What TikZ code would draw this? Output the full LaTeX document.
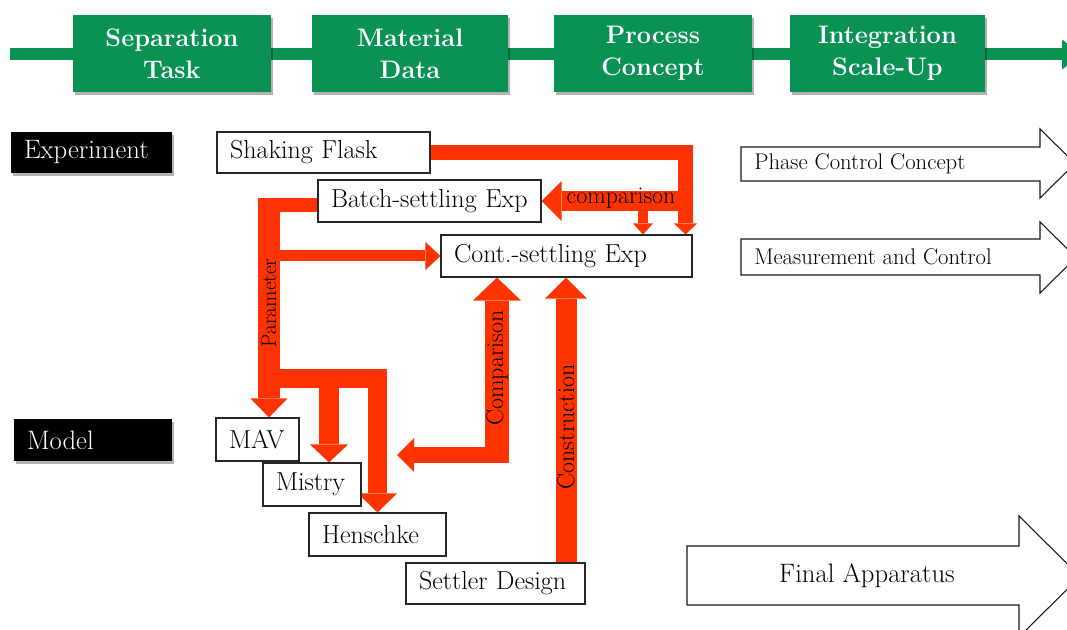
\documentclass[tikz,border=0pt]{standalone}
\usepackage{fontspec}
\usetikzlibrary{arrows.meta,calc,shadows}
\definecolor{gbox}{RGB}{9,146,84}
\definecolor{redc}{RGB}{255,51,0}
\pgfdeclarelayer{bg}
\pgfsetlayers{bg,main}
\begin{document}
\begin{tikzpicture}[x=0.75pt,y=-0.75pt,
  gstage/.style={fill=gbox, text=white, font=\fontsize{19}{24}\selectfont\bfseries, align=center,
    minimum height=57.75pt, inner sep=0pt,
    drop shadow={shadow xshift=1.2pt, shadow yshift=-2pt, opacity=0.3, fill=black}},
  rowlab/.style={fill=black, text=white, font=\fontsize{20}{23}\selectfont, align=left,
    inner xsep=9.75pt, inner ysep=0pt,
    drop shadow={shadow xshift=1.2pt, shadow yshift=-2pt, opacity=0.3, fill=black}},
  wbox/.style={draw=black!85, line width=0.8pt, fill=white, font=\fontsize{19.5}{22}\selectfont,
    align=left, inner xsep=9.75pt, inner ysep=0pt},
  rarrow/.style={draw=redc, line width=#1},
  hollow/.style={draw=black!90, line width=0.8pt, fill=white},
  rlab/.style={font=\fontsize{18}{21}\selectfont, text=black, inner sep=0pt},
  alab/.style={font=\fontsize{17}{20}\selectfont, text=black, inner sep=0pt}
]
\useasboundingbox (0,0) rectangle (1067,630);
\clip (0,0) rectangle (1067,630);

% ---- top stage bar ----
\coordinate (gstart) at (10,54.5);
\coordinate (gend) at (1082,54.5);
\begin{pgfonlayer}{bg}
\draw[draw=gbox, line width=9pt, -{Triangle[width=22.5pt,length=15pt,line width=0pt]}] (gstart) -- (gend);
\end{pgfonlayer}
\node[gstage, minimum width=148.5pt] (s1) at (172,53.5) {Separation\\Task};
\node[gstage, minimum width=147pt] (s2) at (410,53.5) {Material\\Data};
\node[gstage, minimum width=148.5pt] (s3) at (653,53.5) {Process\\Concept};
\node[gstage, minimum width=146.25pt] (s4) at (887.5,53.5) {Integration\\Scale-Up};

% ---- row labels ----
\node[rowlab, text width=101.25pt, minimum height=30.75pt] (exp) at (91.5,152.5) {Experiment};
\node[rowlab, text width=99pt, minimum height=31.5pt] (mod) at (93,440) {Model};

% ---- white boxes ----
\node[wbox, text width=140.25pt, minimum height=30.75pt] (shake) at (323.5,152.5) {Shaking Flask};
\node[wbox, text width=147.75pt, minimum height=31.5pt] (batch) at (429.5,201) {Batch-settling Exp};
\node[wbox, text width=168.75pt, minimum height=31.5pt] (cont) at (566.5,256) {Cont.-settling Exp};
\node[wbox, text width=42.75pt, minimum height=32.25pt] (mav) at (257.5,439.5) {MAV};
\node[wbox, text width=54pt, minimum height=32.25pt] (mistry) at (312,484.5) {Mistry};
\node[wbox, text width=83.25pt, minimum height=32.25pt] (hensch) at (377.5,534.5) {Henschke};
\node[wbox, text width=114.75pt, minimum height=30.75pt] (settler) at (495.5,583.5) {Settler Design};

% ---- helper coordinates ----
\coordinate (stemA) at ($(cont.north east)+(-7,0)$);
\coordinate (brB) at (643,199);
\coordinate (ptop) at (269,198);
\coordinate (pleft) at (258,205);
\coordinate (mbr) at (269,378.5);
\coordinate (mtip) at ($(mistry.north)+(17,0)$);
\coordinate (cbot) at (497,463);
\coordinate (ccorner) at (509,455);
\coordinate (cend) at (397,455);
\coordinate (kbase) at ($(settler.north)+(70.5,0)$);

% ---- red arrows ----
\begin{pgfonlayer}{bg}
\draw[rarrow=11.25pt, -{Triangle[width=17.25pt,length=8.25pt,line width=0pt]}] (shake.east) -| (stemA);
\draw[rarrow=15pt, -{Triangle[width=30pt,length=15pt,line width=0pt]}] (stemA |- batch.east) -- (batch.east);
\draw[rarrow=7.5pt, -{Triangle[width=15pt,length=8.25pt,line width=0pt]}] (brB) -- (brB |- cont.north);
\draw[rarrow=10.5pt] (batch.west |- pleft) -- (pleft);
\draw[rarrow=16.5pt, -{Triangle[width=27.75pt,length=14.25pt,line width=0pt]}] (ptop) -- (ptop |- mav.north);
\draw[rarrow=8.25pt, -{Triangle[width=21pt,length=11.25pt,line width=0pt]}] (ptop |- cont.west) -- (cont.west);
\draw[rarrow=14.25pt, -{Triangle[width=29.25pt,length=14.25pt,line width=0pt]}] (mbr) -| (hensch.north);
\draw[rarrow=15pt, -{Triangle[width=28.5pt,length=13.5pt,line width=0pt]}] (mtip |- mbr) -- (mtip);
\draw[rarrow=18pt, -{Triangle[width=36pt,length=17.25pt,line width=0pt]}] (cbot) -- (cbot |- cont.south);
\draw[rarrow=12pt, -{Triangle[width=25.5pt,length=12.75pt,line width=0pt]}] (ccorner) -- (cend);
\draw[rarrow=15.75pt, -{Triangle[width=31.5pt,length=15.75pt,line width=0pt]}] (kbase) -- (kbase |- cont.south);
\end{pgfonlayer}

% ---- labels on red arrows ----
\node[rlab] (lcomp) at (621,198) {comparison};
\node[font=\fontsize{16}{19}\selectfont, inner sep=0pt, rotate=90] (lpar) at (269,303) {Parameter};
\node[rlab, rotate=90] (lCmp) at (497,368) {Comparison};
\node[rlab, rotate=90] (lcon) at (566,427) {Construction};

% ---- hollow arrows ----
\draw[hollow] (741,147) -- (1040,147) -- (1040,129) -- (1075,163.5) -- (1040,198) -- (1040,181) -- (741,181) -- cycle;
\node[alab, anchor=west] (pcc) at (754,164) {Phase Control Concept};
\draw[hollow] (741,239) -- (1040,239) -- (1040,222) -- (1076,257.5) -- (1040,293) -- (1040,275) -- (741,275) -- cycle;
\node[alab, anchor=west] (mac) at (754,257) {Measurement and Control};
\draw[hollow] (687,546) -- (1019,546) -- (1019,516) -- (1080,576.5) -- (1019,637) -- (1019,605) -- (687,605) -- cycle;
\node[font=\fontsize{20}{23}\selectfont, inner sep=0pt] (fa) at (867,576) {Final Apparatus};
\end{tikzpicture}
\end{document}
